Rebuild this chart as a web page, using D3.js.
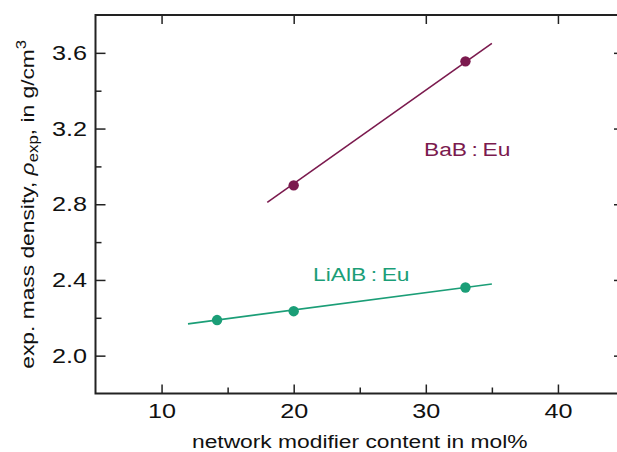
<!DOCTYPE html>
<html>
<head>
<meta charset="utf-8">
<script src="https://cdn.jsdelivr.net/npm/d3@7"></script>
<style>
	body { margin: 0; background: #fff; }
	svg text { font-family: "Liberation Sans", Arial, Helvetica, sans-serif; }
</style>
</head>
<body>
<div id="chart"></div>
<script>
	'use strict';

	// measured points, BaB:Eu
	var babX = [20, 33];
	var babY = [2.90, 3.555];
	// linear fit, BaB:Eu (endpoints)
	var babFitX = [18, 35];
	var babFitY = [2.81, 3.65];

	// measured points, LiAlB:Eu
	var lialbX = [14.2, 20, 33];
	var lialbY = [2.188, 2.235, 2.36];
	var lialbFitX = [12, 35];
	var lialbFitY = [2.168, 2.379];

	var xMajor = [10, 20, 30, 40];
	var xMinor = [15, 25, 35];
	var yMajor = [2.0, 2.4, 2.8, 3.2, 3.6];
	var yMinor = [2.2, 2.6, 3.0, 3.4];

	var width = 617;
	var height = 452;
	var plot = {left: 95.5, right: 624, top: 15, bottom: 393.5};
	// the reference lettering is a little wider than Helvetica
	var stretch = 'scale(1.2,1)';

	var babColor = '#7b1a4e';
	var lialbColor = '#1b9e77';
	var axisColor = '#222';

	var x = d3.scaleLinear().domain([5, 45]).range([plot.left, plot.right]);
	var y = d3.scaleLinear().domain([1.8, 3.8]).range([plot.bottom, plot.top]);

	var svg = d3.select('#chart')
		.append('svg')
		.attr('width', width)
		.attr('height', height);

	//axes, ticks point inward
	function styleAxis(g) {
		g.select('.domain').remove();
		g.selectAll('.tick line')
			.attr('stroke', axisColor)
			.attr('stroke-width', 1.5);
		g.selectAll('.tick text')
			.attr('fill', '#111')
			.attr('transform', stretch)
			.style('font-family', '"Liberation Sans", Arial, sans-serif')
			.style('font-size', '21px');
	}

	svg.append('g')
		.attr('transform', 'translate(0,' + plot.bottom + ')')
		.call(d3.axisBottom(x).tickValues(xMajor).tickSize(-9).tickPadding(10).tickFormat(d3.format('d')))
		.call(styleAxis);

	svg.append('g')
		.attr('transform', 'translate(0,' + plot.bottom + ')')
		.call(d3.axisBottom(x).tickValues(xMinor).tickSize(-6).tickFormat(''))
		.call(styleAxis);

	svg.append('g')
		.attr('transform', 'translate(0,' + plot.top + ')')
		.call(d3.axisTop(x).tickValues(xMajor).tickSize(-9).tickFormat(''))
		.call(styleAxis);

	svg.append('g')
		.attr('transform', 'translate(' + plot.left + ',0)')
		.call(d3.axisLeft(y).tickValues(yMajor).tickSize(-10).tickPadding(7).tickFormat(d3.format('.1f')))
		.call(styleAxis);

	svg.append('g')
		.attr('transform', 'translate(' + plot.left + ',0)')
		.call(d3.axisLeft(y).tickValues(yMinor).tickSize(-6).tickFormat(''))
		.call(styleAxis);

	svg.append('g')
		.attr('transform', 'translate(' + plot.right + ',0)')
		.call(d3.axisRight(y).tickValues(yMajor).tickSize(-10).tickFormat(''))
		.call(styleAxis);

	//frame
	svg.append('path')
		.attr('d', 'M' + plot.right + ',' + plot.top + 'H' + plot.left + 'V' + plot.bottom + 'H' + plot.right)
		.attr('fill', 'none')
		.attr('stroke', axisColor)
		.attr('stroke-width', 2);

	var line = d3.line()
		.x(function (d) { return x(d[0]); })
		.y(function (d) { return y(d[1]); });

	function series(xs, ys, fx, fy, color) {
		var fit = d3.zip(fx, fy);
		var pts = d3.zip(xs, ys);
		svg.append('path')
			.datum(fit)
			.attr('d', line)
			.attr('fill', 'none')
			.attr('stroke', color)
			.attr('stroke-width', 1.6);
		svg.append('g')
			.selectAll('circle')
			.data(pts)
			.enter()
			.append('circle')
			.attr('cx', function (d) { return x(d[0]); })
			.attr('cy', function (d) { return y(d[1]); })
			.attr('r', 5.2)
			.attr('fill', color);
	}

	series(babX, babY, babFitX, babFitY, babColor);
	series(lialbX, lialbY, lialbFitX, lialbFitY, lialbColor);

	svg.append('text')
		.text('BaB\u2009:\u2009Eu')
		.attr('transform', 'translate(424,156) ' + stretch)
		.attr('fill', babColor)
		.style('font-size', '19px');

	svg.append('text')
		.text('LiAlB\u2009:\u2009Eu')
		.attr('transform', 'translate(313,281) ' + stretch)
		.attr('fill', lialbColor)
		.style('font-size', '19px');

	//axis titles
	svg.append('text')
		.text('network modifier content in mol%')
		.attr('text-anchor', 'middle')
		.attr('transform', 'translate(' + ((plot.left + plot.right) / 2) + ',448) ' + stretch)
		.attr('fill', '#111')
		.style('font-size', '19px');

	var yt = svg.append('text')
		.attr('text-anchor', 'middle')
		.attr('transform', 'translate(33.5,' + ((plot.top + plot.bottom) / 2) + ') rotate(-90) ' + stretch)
		.attr('fill', '#111')
		.style('font-size', '19px');
	yt.append('tspan').text('exp. mass density, ');
	yt.append('tspan').text('\u03c1').style('font-style', 'italic');
	yt.append('tspan').text('exp').attr('dy', 4).style('font-size', '14px');
	yt.append('tspan').text(', in g/cm').attr('dy', -4);
	yt.append('tspan').text('3').attr('dy', -8).style('font-size', '14px');
</script>
</body>
</html>
